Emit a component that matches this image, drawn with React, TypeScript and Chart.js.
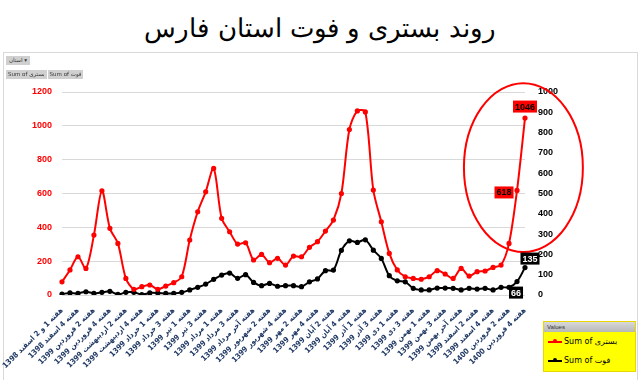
import React, { useEffect, useRef } from "react";
import { Chart, registerables } from "chart.js";

Chart.register(...registerables);

const chartTitle = "روند بستری و فوت استان فارس";
const seriesNames = ["Sum of بستری", "Sum of فوت"];
const filterButton = "استان";

const categories: string[] = [
  "هفته 1 و 2 اسفند 1398", "هفته 3 اسفند 1398", "هفته 4 اسفند 1398",
  "هفته 1 فروردین 1399", "هفته 2 فروردین 1399", "هفته 3 فروردین 1399", "هفته 4 فروردین 1399",
  "هفته 1 اردیبهشت 1399", "هفته 2 اردیبهشت 1399", "هفته 3 اردیبهشت 1399", "هفته 4 اردیبهشت 1399", "هفته آخر اردیبهشت 1399",
  "هفته 1 خرداد 1399", "هفته 2 خرداد 1399", "هفته 3 خرداد 1399", "هفته 4 خرداد 1399",
  "هفته 1 تیر 1399", "هفته 2 تیر 1399", "هفته 3 تیر 1399", "هفته 4 تیر 1399",
  "هفته 1 مرداد 1399", "هفته 2 مرداد 1399", "هفته 3 مرداد 1399", "هفته 4 مرداد 1399", "هفته آخر مرداد 1399",
  "هفته 1 شهریور 1399", "هفته 2 شهریور 1399", "هفته 3 شهریور 1399", "هفته 4 شهریور 1399",
  "هفته 1 مهر 1399", "هفته 2 مهر 1399", "هفته 3 مهر 1399", "هفته 4 مهر 1399",
  "هفته 1 آبان 1399", "هفته 2 آبان 1399", "هفته 3 آبان 1399", "هفته 4 آبان 1399", "هفته آخر آبان 1399",
  "هفته 1 آذر 1399", "هفته 2 آذر 1399", "هفته 3 آذر 1399", "هفته 4 آذر 1399",
  "هفته 1 دی 1399", "هفته 2 دی 1399", "هفته 3 دی 1399", "هفته 4 دی 1399",
  "هفته 1 بهمن 1399", "هفته 2 بهمن 1399", "هفته 3 بهمن 1399", "هفته 4 بهمن 1399", "هفته آخر بهمن 1399",
  "هفته 1 اسفند 1399", "هفته 2 اسفند 1399", "هفته 3 اسفند 1399", "هفته 4 اسفند 1399",
  "هفته 1 فروردین 1400", "هفته 2 فروردین 1400", "هفته 3 فروردین 1400", "هفته 4 فروردین 1400",
];

const hospitalized: number[] = [
  78, 148, 226, 157, 354, 616, 394, 305, 98, 34, 49, 59, 34, 53, 73, 108, 325, 492, 610, 748,
  453, 374, 301, 309, 207, 240, 191, 217, 177, 230, 226, 282, 315, 378, 443, 600, 978, 1088, 1082, 620,
  433, 246, 148, 108, 98, 93, 108, 144, 124, 98, 157, 112, 138, 142, 163, 177, 305, 618, 1046,
];

const deaths: number[] = [
  5, 10, 8, 16, 8, 13, 18, 3, 13, 13, 2, 10, 10, 8, 8, 13, 25, 38, 54, 77,
  98, 108, 82, 100, 62, 46, 57, 43, 46, 46, 41, 65, 79, 120, 123, 220, 267, 259, 272, 221,
  180, 95, 70, 65, 33, 25, 25, 34, 34, 33, 25, 33, 29, 33, 25, 38, 38, 66, 135,
];

const leftAxis = { min: 0, max: 1200, step: 200 };
const rightAxis = { min: 0, max: 1000, step: 100 };
const labelledIndices = [57, 58];

const RED = "#FF0000";
const NAVY = "#1F3864";
const ARABIC_FONT = '"DejaVu Sans", sans-serif';
const TICK_FONT = '"DejaVu Sans Condensed", "DejaVu Sans", sans-serif';
const NUM_FONT = 'Arial, "Liberation Sans", sans-serif';

const annotationPlugin = {
  id: "annotations",
  afterDatasetsDraw(chart: any) {
    const ctx = chart.ctx;
    const xs = chart.scales.x;
    const yl = chart.scales.yL;
    // hand-drawn highlight ellipse
    const cx = xs.getPixelForValue(57.8);
    const cy = yl.getPixelForValue(753);
    const rx = Math.abs(xs.getPixelForValue(57.8) - xs.getPixelForValue(50.35));
    const ry = Math.abs(yl.getPixelForValue(254) - cy);
    ctx.save();
    ctx.direction = "ltr";
    ctx.strokeStyle = RED;
    ctx.lineWidth = 2;
    ctx.beginPath();
    ctx.ellipse(cx, cy, rx, ry, 0, 0, Math.PI * 2);
    ctx.stroke();

    const styles: Record<string, { bg: string; fg: string; dx: number; dy: number }> = {
      "0-57": { bg: RED, fg: "#000", dx: -13, dy: 2 },
      "0-58": { bg: RED, fg: "#000", dx: 0, dy: -11.5 },
      "1-57": { bg: "#000", fg: "#fff", dx: -1, dy: 11 },
      "1-58": { bg: "#000", fg: "#fff", dx: 5, dy: -9 },
    };
    ctx.font = `bold 9px ${NUM_FONT}`;
    ctx.textAlign = "center";
    ctx.textBaseline = "middle";
    [0, 1].forEach((s) => {
      const meta = chart.getDatasetMeta(s);
      labelledIndices.forEach((i) => {
        const pt = meta.data[i];
        const st = styles[`${s}-${i}`];
        const text = String(chart.data.datasets[s].data[i]);
        const w = ctx.measureText(text).width + 4;
        const h = 12;
        const px = pt.x + st.dx;
        const py = pt.y + st.dy;
        ctx.fillStyle = st.bg;
        ctx.fillRect(px - w / 2, py - h / 2, w, h);
        ctx.fillStyle = st.fg;
        ctx.fillText(text, px, py + 0.5);
      });
    });
    ctx.restore();
  },
};

export default function App() {
  const canvasRef = useRef<HTMLCanvasElement | null>(null);

  useEffect(() => {
    document.body.style.margin = "0";
    const canvas = canvasRef.current;
    if (!canvas) return;
    const chart = new Chart(canvas, {
      type: "line",
      data: {
        labels: categories,
        datasets: [
          {
            label: seriesNames[0],
            data: hospitalized,
            yAxisID: "yL",
            borderColor: RED,
            backgroundColor: RED,
            borderWidth: 2,
            pointRadius: 1.6,
            pointHoverRadius: 1.6,
            tension: 0.3,
          },
          {
            label: seriesNames[1],
            data: deaths,
            yAxisID: "yR",
            borderColor: "#000",
            backgroundColor: "#000",
            borderWidth: 2,
            pointRadius: 1.6,
            pointHoverRadius: 1.6,
            tension: 0.3,
          },
        ],
      },
      options: {
        animation: false,
        responsive: false,
        devicePixelRatio: 1,
        layout: { padding: { top: 92, left: 0, right: 0, bottom: 0 } },
        plugins: { legend: { display: false }, tooltip: { enabled: false }, title: { display: false } },
        scales: {
          x: {
            type: "category",
            offset: false,
            grid: { display: false },
            border: { display: false },
            ticks: {
              autoSkip: false,
              maxRotation: 45,
              minRotation: 45,
              padding: 3,
              color: NAVY,
              font: { family: TICK_FONT, size: 7.6, weight: "bold" },
              callback: (_v: any, i: number) => (i % 2 === 0 ? categories[i] : ""),
            },
            afterFit: (s: any) => {
              s.height = 85;
              s.paddingLeft = 0;
              s.paddingRight = 0;
            },
          },
          yL: {
            position: "left",
            min: leftAxis.min,
            max: leftAxis.max,
            grid: { color: "#D9D9D9", drawTicks: false, lineWidth: 1 },
            border: { display: false },
            ticks: {
              stepSize: leftAxis.step,
              padding: 10,
              color: RED,
              font: { family: NUM_FONT, size: 9, weight: "bold" },
              callback: (v: any) => String(v),
            },
            afterFit: (s: any) => {
              s.width = 62;
              s.paddingTop = 0;
              s.paddingBottom = 0;
            },
          },
          yR: {
            position: "right",
            min: rightAxis.min,
            max: rightAxis.max,
            grid: { display: false, drawTicks: false },
            border: { display: false },
            ticks: {
              stepSize: rightAxis.step,
              padding: 13,
              color: "#000",
              font: { family: NUM_FONT, size: 9, weight: "bold" },
              callback: (v: any) => String(v),
            },
            afterFit: (s: any) => {
              s.width = 115;
              s.paddingTop = 0;
              s.paddingBottom = 0;
            },
          },
        },
      },
      plugins: [annotationPlugin],
    });
    return () => chart.destroy();
  }, []);

  const legendRow = (color: string, text: string) => (
    <div style={{ display: "flex", alignItems: "center", height: 19, paddingLeft: 4 }}>
      <span style={{ position: "relative", width: 14, height: 2, background: color, display: "inline-block", marginRight: 2 }}>
        <span style={{ position: "absolute", left: 5, top: -1.5, width: 4, height: 4, borderRadius: 2, background: color }} />
      </span>
      <span style={{ fontFamily: ARABIC_FONT, fontSize: 8, color: "#000", whiteSpace: "nowrap" }}>{text}</span>
    </div>
  );

  return (
    <div style={{ position: "relative", width: 640, height: 380, background: "#fff", overflow: "hidden" }}>
      <div
        dir="rtl"
        style={{ position: "absolute", left: 0, top: 8, width: 640, textAlign: "center", fontFamily: '"DejaVu Sans ExtraLight", "DejaVu Sans", sans-serif', fontWeight: 300, fontSize: 26, color: "#000", lineHeight: "40px" }}
      >
        {chartTitle}
      </div>
      <div style={{ position: "absolute", left: 3, top: 52, width: 633, height: 340, border: "1px solid #D9D9D9" }} />
      <canvas ref={canvasRef} width={640} height={380} style={{ position: "absolute", left: 0, top: 0, direction: "rtl" }} />
      <div style={{ position: "absolute", left: 6, top: 56, height: 9, padding: "0 3px", background: "#D0D0D0", fontFamily: ARABIC_FONT, fontSize: 5.5, lineHeight: "9px", color: "#333", whiteSpace: "nowrap" }}>
        <span dir="rtl">{filterButton}</span> ▾
      </div>
      <div style={{ position: "absolute", left: 6, top: 70, height: 9, display: "flex", gap: 1, fontFamily: ARABIC_FONT, fontSize: 5.5, lineHeight: "9px", color: "#333" }}>
        <span style={{ background: "#D0D0D0", padding: "0 2px", whiteSpace: "nowrap" }}>{seriesNames[0]}</span>
        <span style={{ background: "#D0D0D0", padding: "0 2px", whiteSpace: "nowrap" }}>{seriesNames[1]}</span>
      </div>
      <div style={{ position: "absolute", left: 543, top: 321, width: 93, height: 51, background: "#FFFF00", border: "1px solid #E8D800", boxSizing: "border-box" }}>
        <div style={{ height: 10, background: "linear-gradient(#D8D8D8, #B8B8B8)", fontFamily: NUM_FONT, fontSize: 6, lineHeight: "10px", paddingLeft: 3, color: "#333" }}>Values</div>
        {legendRow(RED, seriesNames[0])}
        {legendRow("#000", seriesNames[1])}
      </div>
    </div>
  );
}
